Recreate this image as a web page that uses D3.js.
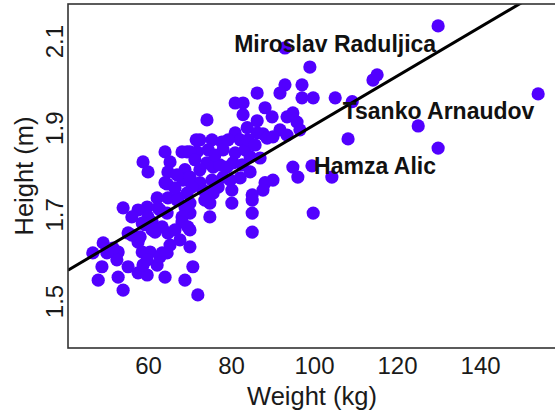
<!DOCTYPE html>
<html>
<head>
<meta charset="utf-8">
<script src="https://cdn.jsdelivr.net/npm/d3@7/dist/d3.min.js"></script>
<style>
  body { margin: 0; background: #fff; }
  svg { display: block; font-family: "Liberation Sans", Arial, sans-serif; }
</style>
</head>
<body>
<div id="chart"></div>
<script>
// weight (kg)
const weight = [
  129.9, 93.0, 99.0, 115.2, 114.2, 154.0, 125.1, 129.9, 108.2, 105.1,
  109.2, 99.8, 97.1, 97.1, 93.0, 91.8, 86.3, 81.0, 82.9, 82.9,
  88.2, 89.9, 93.5, 86.3, 74.2, 95.9, 96.6, 91.8, 87.7, 86.3,
  81.0, 82.2, 77.8, 75.4, 72.5, 69.4, 71.8, 78.1, 81.0, 83.4,
  84.6, 87.0, 88.7, 90.1, 93.5, 94.9, 68.9, 68.4, 70.1, 74.2,
  75.7, 77.3, 79.0, 80.5, 82.7, 72.5, 75.4, 78.1, 76.9, 80.2,
  75.7, 73.3, 70.6, 69.4, 88.2, 90.1, 87.7, 85.1, 94.9, 96.1,
  99.5, 104.3, 70.1, 74.9, 80.2, 85.1, 70.1, 74.9, 85.1, 70.1,
  85.1, 99.8, 70.8, 68.9, 72.0, 58.8, 60.0, 64.1, 65.3, 64.8,
  64.6, 68.2, 70.1, 71.6, 62.2, 59.8, 57.6, 54.0, 56.1, 60.0,
  59.3, 62.4, 64.8, 67.2, 68.9, 68.2, 69.6, 63.4, 64.8, 61.0,
  55.2, 49.2, 46.7, 52.8, 52.5, 48.9, 48.0, 52.8, 54.0, 55.2,
  57.6, 59.8, 58.8, 62.2, 64.1, 68.2, 65.3, 63.4, 60.5, 58.6,
  57.6, 56.1, 61.7, 58.6, 61.0, 62.9, 64.6, 70.1, 51.6, 50.1,
  58.1, 59.8, 62.9, 67.0, 64.6, 66.5, 67.7, 67.0, 66.5, 72.5,
  71.3, 74.5, 76.1, 79.3, 84.1, 85.8, 82.2, 84.6, 79.8, 73.7,
  83.9, 64.1
];
// height (m), same order
const height = [
  2.135, 2.084, 2.040, 2.022, 2.010, 1.978, 1.904, 1.853, 1.874, 1.969,
  1.960, 1.969, 1.969, 1.999, 1.999, 1.980, 1.980, 1.957, 1.957, 1.930,
  1.946, 1.925, 1.925, 1.916, 1.918, 1.913, 1.895, 1.895, 1.886, 1.888,
  1.888, 1.872, 1.867, 1.872, 1.872, 1.844, 1.844, 1.849, 1.842, 1.849,
  1.833, 1.830, 1.876, 1.879, 1.883, 1.934, 1.803, 1.779, 1.786, 1.819,
  1.809, 1.814, 1.809, 1.819, 1.814, 1.773, 1.779, 1.786, 1.763, 1.756,
  1.749, 1.756, 1.763, 1.749, 1.773, 1.779, 1.756, 1.745, 1.809, 1.786,
  1.812, 1.786, 1.726, 1.726, 1.726, 1.733, 1.703, 1.694, 1.703, 1.664,
  1.659, 1.703, 1.579, 1.548, 1.514, 1.821, 1.798, 1.844, 1.821, 1.798,
  1.770, 1.844, 1.844, 1.872, 1.738, 1.717, 1.710, 1.715, 1.694, 1.694,
  1.676, 1.715, 1.738, 1.738, 1.717, 1.694, 1.671, 1.671, 1.657, 1.664,
  1.657, 1.634, 1.611, 1.613, 1.595, 1.579, 1.548, 1.555, 1.525, 1.579,
  1.565, 1.560, 1.583, 1.583, 1.555, 1.682, 1.629, 1.611, 1.613, 1.613,
  1.636, 1.652, 1.659, 1.680, 1.682, 1.602, 1.611, 1.625, 1.622, 1.611,
  1.648, 1.595, 1.710, 1.733, 1.703, 1.664, 1.641, 1.791, 1.761, 1.803,
  1.826, 1.849, 1.837, 1.872, 1.872, 1.860, 1.784, 1.798, 1.779, 1.733,
  1.900, 1.773
];

const xTicks = [60, 80, 100, 120, 140];
const yTicks = [1.5, 1.7, 1.9, 2.1];

// fitted line: height = intercept + slope * weight
const fitIntercept = 1.341;
const fitSlope = 0.00565;

const labelNames = ["Miroslav Raduljica", "Tsanko Arnaudov", "Hamza Alic"];
const labelWeight = [105.1, 130.0, 114.7];
const labelHeight = [2.075, 1.920, 1.793];

const W = 555, H = 413;
const margin = {top: 4, right: -1, bottom: 65, left: 68};

const svg = d3.select("#chart").append("svg")
    .attr("width", W)
    .attr("height", H);

const x = d3.scaleLinear()
    .domain([40.72, 158.3])
    .range([margin.left, W - margin.right]);
const y = d3.scaleLinear()
    .domain([1.3915, 2.1855])
    .range([H - margin.bottom, margin.top]);

svg.append("clipPath").attr("id", "panel")
  .append("rect")
    .attr("x", margin.left).attr("y", margin.top)
    .attr("width", W - margin.right - margin.left)
    .attr("height", H - margin.bottom - margin.top);

const pts = d3.zip(weight, height);

svg.append("g").attr("clip-path", "url(#panel)")
  .selectAll("circle")
  .data(pts)
  .join("circle")
    .attr("cx", d => x(d[0]))
    .attr("cy", d => y(d[1]))
    .attr("r", 6.6)
    .attr("fill", "#5200ff");

const xd = x.domain();
svg.append("line")
    .attr("clip-path", "url(#panel)")
    .attr("x1", x(xd[0])).attr("y1", y(fitIntercept + fitSlope * xd[0]))
    .attr("x2", x(xd[1])).attr("y2", y(fitIntercept + fitSlope * xd[1]))
    .attr("stroke", "#000")
    .attr("stroke-width", 3);

// panel border
svg.append("rect")
    .attr("x", margin.left).attr("y", margin.top)
    .attr("width", W - margin.right - margin.left)
    .attr("height", H - margin.bottom - margin.top)
    .attr("fill", "none")
    .attr("stroke", "#333")
    .attr("stroke-width", 1.6);

// axes, no tick marks
const xAxis = svg.append("g")
    .attr("transform", `translate(0,${H - margin.bottom})`)
    .call(d3.axisBottom(x).tickValues(xTicks).tickSize(0).tickPadding(9));
xAxis.select(".domain").remove();
xAxis.selectAll("text")
    .attr("font-size", 24)
    .attr("font-family", "Liberation Sans, Arial, sans-serif")
    .attr("fill", "#1a1a1a");

const yAxis = svg.append("g")
    .attr("transform", `translate(${margin.left},0)`)
    .call(d3.axisLeft(y).tickValues(yTicks).tickSize(0).tickFormat(d3.format(".1f")));
yAxis.select(".domain").remove();
yAxis.selectAll("text")
    .attr("x", null).attr("dy", null)
    .attr("font-size", 24)
    .attr("font-family", "Liberation Sans, Arial, sans-serif")
    .attr("fill", "#1a1a1a")
    .attr("text-anchor", "middle")
    .attr("transform", "translate(-5,0) rotate(-90)");

svg.append("text")
    .attr("x", (margin.left + W - margin.right) / 2)
    .attr("y", 405)
    .attr("text-anchor", "middle")
    .attr("font-size", 25.5)
    .attr("fill", "#1a1a1a")
    .text("Weight (kg)");

svg.append("text")
    .attr("transform", `translate(33,${(margin.top + H - margin.bottom) / 2}) rotate(-90)`)
    .attr("text-anchor", "middle")
    .attr("font-size", 25.5)
    .attr("fill", "#1a1a1a")
    .text("Height (m)");

svg.append("g")
  .selectAll("text")
  .data(labelNames)
  .join("text")
    .attr("x", (d, i) => x(labelWeight[i]))
    .attr("y", (d, i) => y(labelHeight[i]))
    .attr("text-anchor", "middle")
    .attr("font-size", 23)
    .attr("font-weight", "bold")
    .attr("fill", "#111")
    .text(d => d);
</script>
</body>
</html>
